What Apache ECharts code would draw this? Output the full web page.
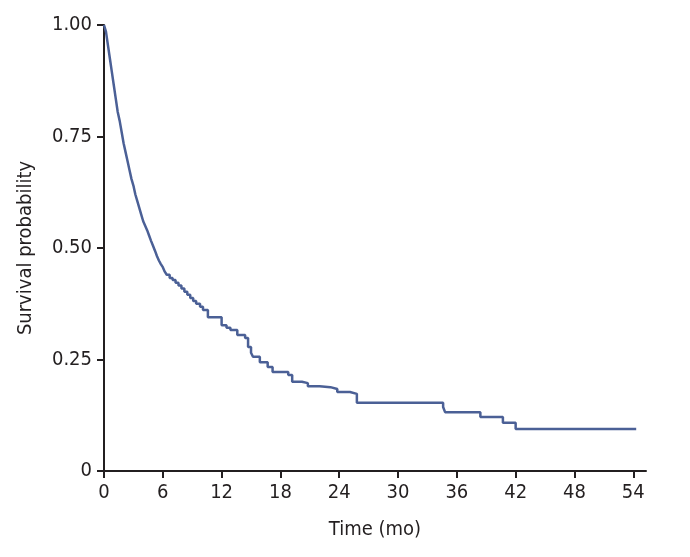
<!DOCTYPE html>
<html>
<head>
<meta charset="utf-8">
<script src="https://cdn.jsdelivr.net/npm/echarts@6/dist/echarts.min.js"></script>
<style>html,body{margin:0;padding:0;background:#fff}#c{width:690px;height:557px}</style>
</head>
<body>
<div id="c"></div>
<script>
// Kaplan-Meier estimate: event times (months) and survival after each event
const times = [0, 0.2, 0.4, 0.6, 0.8, 1.0, 1.2, 1.4, 1.6, 1.8, 2.0, 2.2, 2.4, 2.6, 2.8, 3.0, 3.2, 3.4, 3.6, 3.8,
  4.0, 4.2, 4.4, 4.6, 4.8, 5.0, 5.2, 5.4, 5.6, 5.8, 6.0, 6.2, 6.4, 6.7, 7.0, 7.3, 7.6, 7.9, 8.2, 8.5, 8.8,
  9.1, 9.4, 9.8, 10.1, 10.6, 12.0, 12.5, 12.9, 13.6, 14.4, 14.7, 15.0, 15.2, 15.9, 16.7, 17.2, 18.8, 19.2,
  20.2, 20.8, 22.0, 23.1, 23.8, 25.1, 25.8, 34.6, 34.8, 38.4, 40.7, 42.0, 54.3];
const survival = [1.000, 0.985, 0.955, 0.925, 0.895, 0.865, 0.835, 0.805, 0.785, 0.760, 0.735, 0.715, 0.695,
  0.675, 0.655, 0.640, 0.620, 0.605, 0.590, 0.575,
  0.560, 0.550, 0.540, 0.528, 0.516, 0.505, 0.494, 0.482, 0.472, 0.464, 0.457, 0.447, 0.440, 0.433, 0.428,
  0.422, 0.416, 0.409, 0.402, 0.395, 0.388, 0.381, 0.375, 0.368, 0.361, 0.345, 0.327, 0.321, 0.316, 0.305,
  0.298, 0.278, 0.265, 0.256, 0.244, 0.233, 0.222, 0.215, 0.200, 0.197, 0.190, 0.188, 0.184, 0.177, 0.173,
  0.153, 0.1435, 0.132, 0.121, 0.108, 0.094, 0.094];
const xTicks = [0, 6, 12, 18, 24, 30, 36, 42, 48, 54];
const yTicks = [0, 0.25, 0.5, 0.75, 1.0];
const yTickLabels = ['0', '0.25', '0.50', '0.75', '1.00'];

const font = '"DejaVu Sans Condensed", "Liberation Sans Narrow", sans-serif';
const axisColor = '#231f20';
const chart = echarts.init(document.getElementById('c'));
chart.setOption({
  animation: false,
  backgroundColor: '#fff',
  grid: { left: 104, right: 44, top: 25, bottom: 86 },
  xAxis: {
    type: 'value', min: 0, max: 55.3,
    name: 'Time (mo)', nameLocation: 'middle', nameGap: 49,
    nameTextStyle: { fontFamily: font, fontSize: 20, color: '#231f20' },
    axisLine: { show: true, lineStyle: { color: axisColor, width: 2 } },
    axisTick: { show: true, length: 7, lineStyle: { color: axisColor, width: 2 }, customValues: xTicks },
    axisLabel: { fontFamily: font, fontSize: 20, color: '#231f20', margin: 12, customValues: xTicks },
    splitLine: { show: false }
  },
  yAxis: {
    type: 'value', min: 0, max: 1,
    name: 'Survival probability', nameLocation: 'middle', nameGap: 68,
    nameTextStyle: { fontFamily: font, fontSize: 20, color: '#231f20' },
    axisLine: { show: true, lineStyle: { color: axisColor, width: 2 } },
    axisTick: { show: true, length: 7, lineStyle: { color: axisColor, width: 2 }, customValues: yTicks },
    axisLabel: {
      fontFamily: font, fontSize: 20, color: '#231f20', margin: 12, customValues: yTicks,
      formatter: v => yTickLabels[yTicks.indexOf(v)] ?? ''
    },
    splitLine: { show: false }
  },
  series: [{
    type: 'line', step: 'end', symbol: 'none',
    data: times.map((t, i) => [t, survival[i]]),
    lineStyle: { color: '#4b6096', width: 2.5 }
  }]
});
</script>
</body>
</html>
